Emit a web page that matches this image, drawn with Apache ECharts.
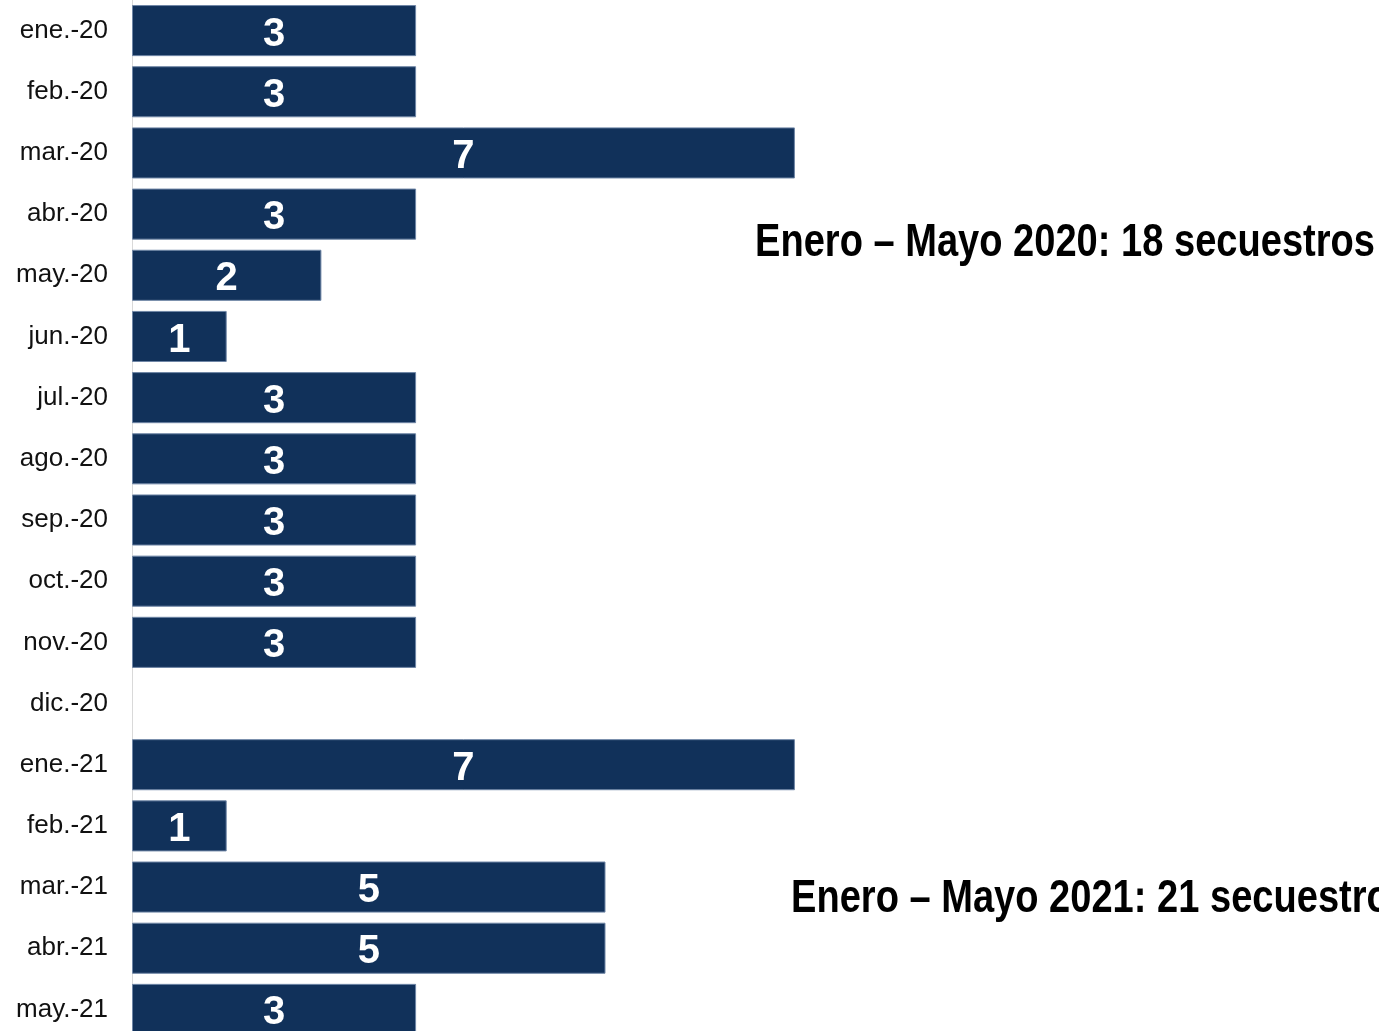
<!DOCTYPE html>
<html>
<head>
<meta charset="utf-8">
<script src="https://cdn.jsdelivr.net/npm/echarts@6/dist/echarts.min.js"></script>
<style>
  html, body { margin: 0; padding: 0; background: #fff; overflow: hidden; }
  #chart { width: 1379px; height: 1040px; }
</style>
</head>
<body>
<div id="chart"></div>
<script>
const months = ['ene.-20', 'feb.-20', 'mar.-20', 'abr.-20', 'may.-20', 'jun.-20', 'jul.-20', 'ago.-20',
  'sep.-20', 'oct.-20', 'nov.-20', 'dic.-20', 'ene.-21', 'feb.-21', 'mar.-21', 'abr.-21', 'may.-21'];
const secuestros = [3, 3, 7, 3, 2, 1, 3, 3, 3, 3, 3, 0, 7, 1, 5, 5, 3];
const notes = ['Enero \u2013 Mayo 2020: 18 secuestros', 'Enero \u2013 Mayo 2021: 21 secuestros'];

const BAR_COLOR = '#11315a';
const NOTE_FONT = 'bold 47px "Liberation Sans Narrow", "Liberation Sans", Arial, sans-serif';
const chart = echarts.init(document.getElementById('chart'));

chart.setOption({
  animation: false,
  grid: { left: 132, top: 0, width: 757.6, bottom: 0 },
  xAxis: { type: 'value', min: 0, max: 8, show: false },
  yAxis: {
    type: 'category',
    data: months,
    inverse: true,
    axisLine: { show: true, lineStyle: { color: '#d9d9d9', width: 1 } },
    axisTick: { show: false },
    axisLabel: {
      fontFamily: 'Liberation Sans, Arial, sans-serif', fontSize: 26, color: '#111',
      margin: 24, padding: [4, 0, 0, 0]
    }
  },
  series: [{
    type: 'bar',
    data: secuestros.map(v => (v === 0 ? null : v)),
    barCategoryGap: '16.5%',
    itemStyle: { color: BAR_COLOR, borderColor: '#6f86a6', borderWidth: 1 },
    label: {
      show: true,
      position: 'inside',
      offset: [0, 4],
      color: '#fff',
      fontFamily: 'Liberation Sans, Arial, sans-serif',
      fontWeight: 'bold',
      fontSize: 40
    }
  }],
  graphic: [
    {
      type: 'text', x: 755, y: 243, scaleX: 0.81,
      style: { text: notes[0], fill: '#000', font: NOTE_FONT, verticalAlign: 'middle' }
    },
    {
      type: 'text', x: 791, y: 899, scaleX: 0.81,
      style: { text: notes[1], fill: '#000', font: NOTE_FONT, verticalAlign: 'middle' }
    }
  ]
});
</script>
</body>
</html>
